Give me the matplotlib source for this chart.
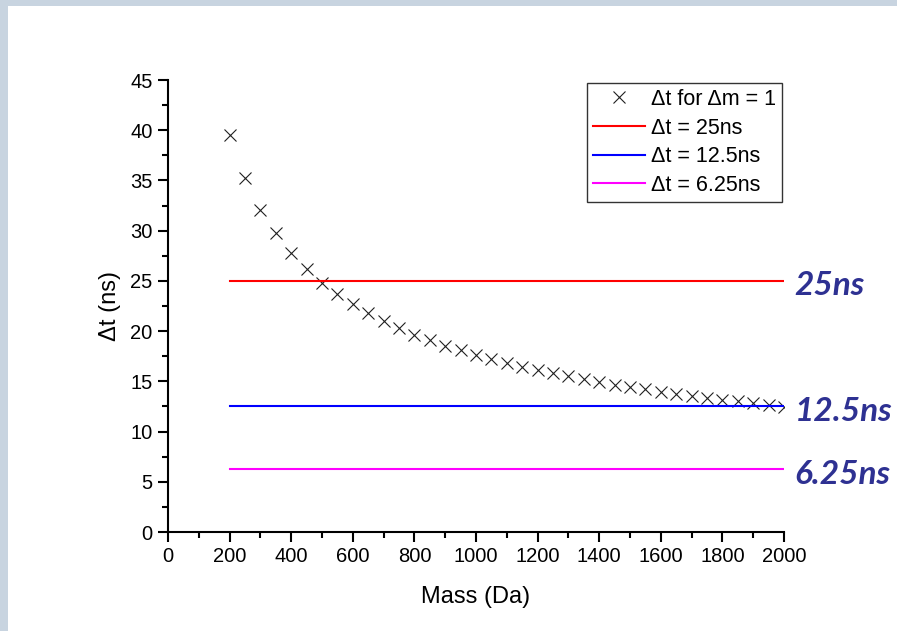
import matplotlib.pyplot as plt
from matplotlib.patches import Rectangle
from matplotlib.ticker import MultipleLocator
from matplotlib.transforms import offset_copy

# ------------------------
# Data
# ------------------------
mass = [200, 250, 300, 350, 400, 450, 500, 550, 600, 650, 700, 750, 800, 850,
        900, 950, 1000, 1050, 1100, 1150, 1200, 1250, 1300, 1350, 1400, 1450,
        1500, 1550, 1600, 1650, 1700, 1750, 1800, 1850, 1900, 1950, 2000]
dt = [39.5, 35.2, 32.1, 29.8, 27.8, 26.2, 24.8, 23.7, 22.7, 21.8, 21.0, 20.3,
      19.6, 19.1, 18.5, 18.1, 17.6, 17.2, 16.8, 16.4, 16.1, 15.8, 15.5, 15.2,
      14.9, 14.6, 14.4, 14.2, 13.9, 13.7, 13.5, 13.3, 13.1, 13.0, 12.8, 12.6, 12.4]

thresholds = [25, 12.5, 6.25]
threshold_colors = ["#ff0000", "#0000ff", "#ff00ff"]
legend_labels = ["\u0394t = 25ns", "\u0394t = 12.5ns", "\u0394t = 6.25ns"]
side_labels = ["25ns", "12.5ns", "6.25ns"]
line_span = [200, 2000]

plt.rcParams["font.family"] = ["Liberation Sans", "DejaVu Sans"]

fig = plt.figure(figsize=(8.97, 6.31), dpi=100)
fig.patch.set_facecolor("white")

# slide-style border strips on the top and left
fig.patches.append(Rectangle((0, 1 - 6 / 631), 1, 6 / 631, transform=fig.transFigure,
                             facecolor="#c8d4e0", edgecolor="none", zorder=0))
fig.patches.append(Rectangle((0, 0), 8 / 897, 1, transform=fig.transFigure,
                             facecolor="#c8d4e0", edgecolor="none", zorder=0))

ax = fig.add_axes([168 / 897, 1 - 532 / 631, (784 - 168) / 897, (532 - 80) / 631])

ax.plot(mass, dt, linestyle="none", marker="x", color="#202020", markersize=8,
        markeredgewidth=0.8, label="\u0394t for \u0394m = 1")
for y, c, lab in zip(thresholds, threshold_colors, legend_labels):
    ax.plot(line_span, [y, y], color=c, linewidth=1.5, label=lab)

ax.set_xlim(0, 2000)
ax.set_ylim(0, 45)
ax.xaxis.set_major_locator(MultipleLocator(200))
ax.xaxis.set_minor_locator(MultipleLocator(100))
ax.yaxis.set_major_locator(MultipleLocator(5))
ax.yaxis.set_minor_locator(MultipleLocator(2.5))

for s in ["top", "right"]:
    ax.spines[s].set_visible(False)
for s in ["left", "bottom"]:
    ax.spines[s].set_linewidth(1.5)

ax.tick_params(which="major", direction="out", length=7, width=1.5, labelsize=14.5, pad=4)
ax.tick_params(which="minor", direction="out", length=4.5, width=1.5)

ax.set_xlabel("Mass (Da)", fontsize=17, labelpad=14)
ax.set_ylabel("\u0394t (ns)", fontsize=17, labelpad=7)

leg = ax.legend(loc="upper right", bbox_to_anchor=(782 / 897, 1 - 83 / 631),
                bbox_transform=fig.transFigure, fontsize=15.5,
                frameon=True, fancybox=False, edgecolor="black",
                borderpad=0.28, labelspacing=0.35, handlelength=2.4,
                handletextpad=0.3, borderaxespad=0.0)
leg.get_frame().set_linewidth(1.0)

# right-hand annotations sit slightly below their lines
lab_tr = offset_copy(ax.transData, fig=fig, x=0, y=-5, units="dots")
for y, txt in zip(thresholds, side_labels):
    ax.text(2035, y, txt, fontsize=24, fontweight="bold", fontstyle="italic",
            color="#2e3192", va="center", ha="left", clip_on=False,
            transform=lab_tr, family=["Lato", "DejaVu Sans"])

fig.savefig("out.png", dpi=100)
